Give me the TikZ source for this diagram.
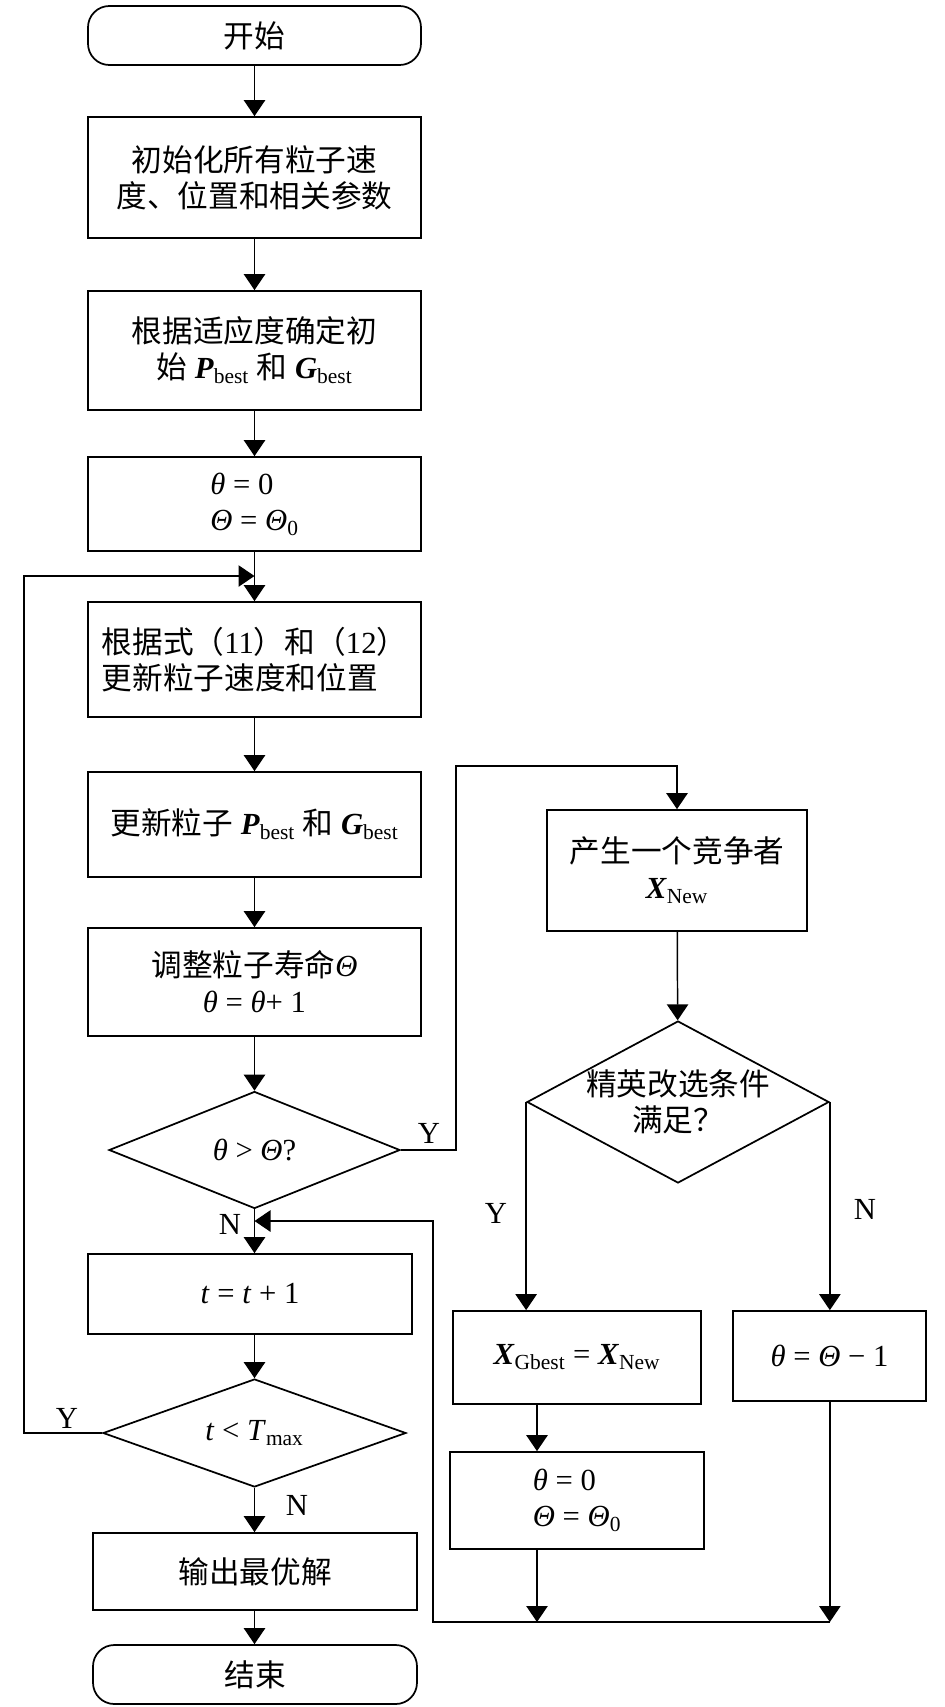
\documentclass[tikz,border=0pt]{standalone}
\usepackage{fontspec}
\setmainfont{Liberation Serif}
\newfontfamily\cjk{Noto Sans CJK SC}
\usetikzlibrary{positioning,shapes.geometric,arrows.meta}

\newcommand{\zh}[1]{{\cjk #1}}
\newcommand{\thet}{\textit{θ}}
\newcommand{\Thet}{\textit{Θ}}
\newcommand{\bestP}{\textbf{\textit{P}}\textsubscript{best}}
\newcommand{\bestG}{\textbf{\textit{G}}\textsubscript{best}}
\newcommand{\newX}{\textbf{\textit{X}}\textsubscript{New}}

\begin{document}
\begin{tikzpicture}[x=0.75pt,y=-0.75pt,
	every node/.style={font=\fontsize{23}{27}\selectfont},
	box/.style={draw,line width=1.3pt,inner sep=2pt,align=center},
	ends/.style={box,rounded corners=16pt},
	dia/.style={draw,line width=1.3pt,diamond,inner sep=0pt},
	flow/.style={line width=1.1pt,-{Triangle[width=16pt,length=12pt]}}]
\useasboundingbox (0,0) rectangle (945,1707);

\newcommand{\bx}[7][box]{
	\node[#1,minimum width=#5*0.75pt,minimum height=#6*0.75pt](#2) at (#3,#4) {#7};
}
\newcommand{\dm}[6]{
	\node[dia,minimum width=#4*0.75pt,minimum height=#5*0.75pt,
		label={[align=center]center:{#6}}](#1) at (#2,#3) {};
}

% main column
\bx[ends]{start}{254.5}{35.5}{333}{59}{\zh{开始}}
\bx{init}{254.5}{177.5}{333}{121}{\zh{初始化所有粒子速}\\\zh{度、位置和相关参数}}
\bx{fit}{254.5}{350.5}{333}{119}{\zh{根据适应度确定初}\\\zh{始} \bestP{} \zh{和} \bestG}
\bx[box,align=left]{set}{254.5}{504}{333}{94}{\thet{} = 0\\\Thet{} = \Thet\textsubscript{0}}
\bx[box,align=left]{upd}{254.5}{659.5}{333}{115}{\zh{根据式（}11\zh{）和（}12\zh{）}\\\zh{更新粒子速度和位置}}
\bx{pg}{254.5}{824.5}{333}{105}{\zh{更新粒子} \bestP{} \zh{和} \bestG}
\bx{adj}{254.5}{982}{333}{108}{\zh{调整粒子寿命}\Thet\\\thet{} = \thet+ 1}
\dm{d1}{254.5}{1150}{291}{117}{\thet{} > \Thet?}
\bx{inc}{250}{1294}{324}{80}{\textit{t} = \textit{t} + 1}
\dm{d3}{254.5}{1433}{303}{108}{\textit{t} < \textit{T}\textsubscript{max}}
\bx{out}{255}{1571.5}{324}{77}{\zh{输出最优解}}
\bx[ends]{end}{255}{1674.5}{324}{59}{\zh{结束}}

% right branch
\bx{comp}{677}{870.5}{260}{121}{\zh{产生一个竞争者}\\\newX}
\dm{d2}{678}{1102}{302}{162}{\zh{精英改选条件}\\\zh{满足？}}
\bx{xg}{577}{1357.5}{248}{93}{\textbf{\textit{X}}\textsubscript{Gbest} = \newX}
\bx{dec}{829.5}{1356}{193}{90}{\thet{} = \Thet{} − 1}
\bx[box,align=left]{reset}{577}{1500.5}{254}{97}{\thet{} = 0\\\Thet{} = \Thet\textsubscript{0}}

% branch labels
\node (y1) at (429,1133) {Y};
\node (n1) at (230,1224) {N};
\node (y2) at (496,1213) {Y};
\node (n2) at (865,1209) {N};
\node (y3) at (67,1418) {Y};
\node (n3) at (297,1505) {N};

\coordinate (lp) at (24,576);
\coordinate (yb) at (456,766);
\coordinate (rx) at (537,1622);
\coordinate (mb) at (433,1622);
\coordinate (mt) at (433,1221);

\draw[flow] (start) -- (init);
\draw[flow] (init) -- (fit);
\draw[flow] (fit) -- (set);
\draw[flow] (set) -- (upd);
\draw[flow] (upd) -- (pg);
\draw[flow] (pg) -- (adj);
\draw[flow] (adj) -- (d1);
\draw[flow] (d1) -- (d1.south |- inc.north);
\draw[flow] (d3.north |- inc.south) -- (d3);
\draw[flow] (d3) -- (d3.south |- out.north);
\draw[flow] (d3.south |- out.south) -- (d3.south |- end.north);
\draw[flow] (d3.west) -| (lp) -- (lp -| set.south);
\draw[flow] (d1.east) -| (yb) -| (comp.north);
\draw[flow] (comp) -- (d2);
\draw[flow] (d2.west) -- (d2.west |- xg.north);
\draw[flow] (d2.east) -- (d2.east |- dec.north);
\draw[flow] (rx |- xg.south) -- (rx |- reset.north);
\draw[flow] (rx |- reset.south) -- (rx);
\draw[flow] (d2.east |- dec.south) -- (d2.east |- mb);
\draw[flow] (d2.east |- mb) -- (mb) -- (mt) -- (mt -| d1.south);

\end{tikzpicture}
\end{document}
